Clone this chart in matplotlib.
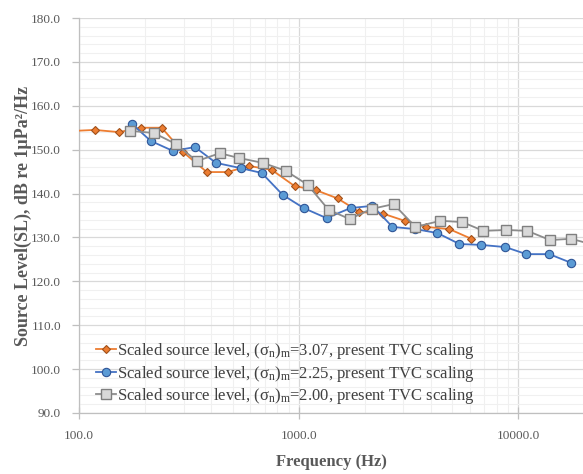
import matplotlib
matplotlib.use("Agg")
import matplotlib.pyplot as plt
from matplotlib.ticker import LogLocator, MultipleLocator, FuncFormatter, NullFormatter

plt.rcParams['font.family'] = ['Liberation Serif', 'DejaVu Serif']
plt.rcParams['mathtext.fontset'] = 'custom'
plt.rcParams['mathtext.rm'] = 'Liberation Serif'
plt.rcParams['mathtext.it'] = 'Liberation Serif:italic'

# Data
freq_a = [88, 118, 152, 191, 238, 297, 382, 475, 593, 754, 959, 1195, 1503, 1892, 2432, 3033, 3818, 4853, 6108]
sl_a = [154.2, 154.5, 154.0, 155.0, 155.0, 149.5, 144.9, 144.9, 146.3, 145.4, 141.7, 140.8, 138.9, 135.8, 135.4, 133.8, 132.4, 131.9, 129.7]

freq_b = [174, 212, 268, 337, 420, 544, 679, 846, 1054, 1340, 1722, 2168, 2674, 3403, 4285, 5395, 6793, 8730, 10880, 13830, 17420]
sl_b = [155.9, 152.0, 149.7, 150.6, 147.0, 145.8, 144.7, 139.7, 136.7, 134.4, 136.7, 137.2, 132.4, 131.9, 131.0, 128.5, 128.3, 127.8, 126.2, 126.2, 124.2]

freq_c = [171, 219, 276, 344, 438, 534, 686, 873, 1099, 1368, 1706, 2147, 2706, 3403, 4419, 5561, 6934, 8816, 10990, 13960, 17420, 22000]
sl_c = [154.3, 153.8, 151.3, 147.4, 149.2, 148.1, 147.0, 145.2, 142.0, 136.3, 134.2, 136.5, 137.6, 132.4, 133.8, 133.5, 131.5, 131.7, 131.5, 129.4, 129.7, 128.3]

labels = [
    r"Scaled source level, (σ$_{\mathrm{n}}$)$_{\mathrm{m}}$=3.07, present TVC scaling",
    r"Scaled source level, (σ$_{\mathrm{n}}$)$_{\mathrm{m}}$=2.25, present TVC scaling",
    r"Scaled source level, (σ$_{\mathrm{n}}$)$_{\mathrm{m}}$=2.00, present TVC scaling",
]

fig = plt.figure(figsize=(5.83, 4.74), dpi=100)
ax = fig.add_axes([0.1355, 0.1287, 0.8645, 0.8333])

ax.plot(freq_a, sl_a, color='#ED7D31', lw=1.3, marker='D', ms=4.5,
        mfc='#ED7D31', mec='#A0501A', mew=0.8, label=labels[0], zorder=3)
ax.plot(freq_b, sl_b, color='#4472C4', lw=1.3, marker='o', ms=6,
        mfc='#5B9BD5', mec='#2F5597', mew=0.8, label=labels[1], zorder=4)
ax.plot(freq_c, sl_c, color='#8C8C8C', lw=1.3, marker='s', ms=6.5,
        mfc='#D9D9D9', mec='#7F7F7F', mew=1.0, label=labels[2], zorder=5)

ax.set_xscale('log')
ax.set_xlim(100, 19700)
ax.set_ylim(90, 180)

ax.xaxis.set_major_locator(LogLocator(base=10, numticks=10))
ax.xaxis.set_minor_locator(LogLocator(base=10, subs=range(2, 10), numticks=20))
ax.xaxis.set_major_formatter(FuncFormatter(lambda v, p: f"{v:.1f}"))
ax.xaxis.set_minor_formatter(NullFormatter())
ax.yaxis.set_major_locator(MultipleLocator(10))
ax.yaxis.set_minor_locator(MultipleLocator(2))
ax.yaxis.set_major_formatter(FuncFormatter(lambda v, p: f"{v:.1f}"))

ax.grid(True, which='major', color='#D9D9D9', lw=0.9, zorder=0)
ax.grid(True, which='minor', color='#F0F0F0', lw=0.8, zorder=0)
ax.set_axisbelow(True)

for s in ['top', 'right']:
    ax.spines[s].set_visible(False)
for s in ['left', 'bottom']:
    ax.spines[s].set_color('#BFBFBF')
    ax.spines[s].set_linewidth(0.9)

ax.tick_params(axis='both', which='major', colors='#BFBFBF', labelcolor='#595959',
               labelsize=9.5, length=5, width=0.9)
ax.tick_params(axis='x', which='major', direction='inout', length=8, pad=8)
ax.tick_params(axis='y', which='major', direction='out', length=5, pad=8)
ax.tick_params(axis='both', which='minor', length=0)

ax.set_xlabel("Frequency (Hz)", fontsize=12, fontweight='bold', color='#595959', labelpad=9)
ax.set_ylabel("Source Level(SL), dB re 1μPa²/Hz", fontsize=13, fontweight='bold',
              color='#595959', labelpad=-1)

leg = ax.legend(loc='lower left', bbox_to_anchor=(0.01, -0.012), frameon=False,
                fontsize=12, handlelength=1.2, handletextpad=0.1, labelspacing=0.15,
                borderpad=0.2)
for t in leg.get_texts():
    t.set_color('#404040')

fig.savefig('out.png', dpi=100)
